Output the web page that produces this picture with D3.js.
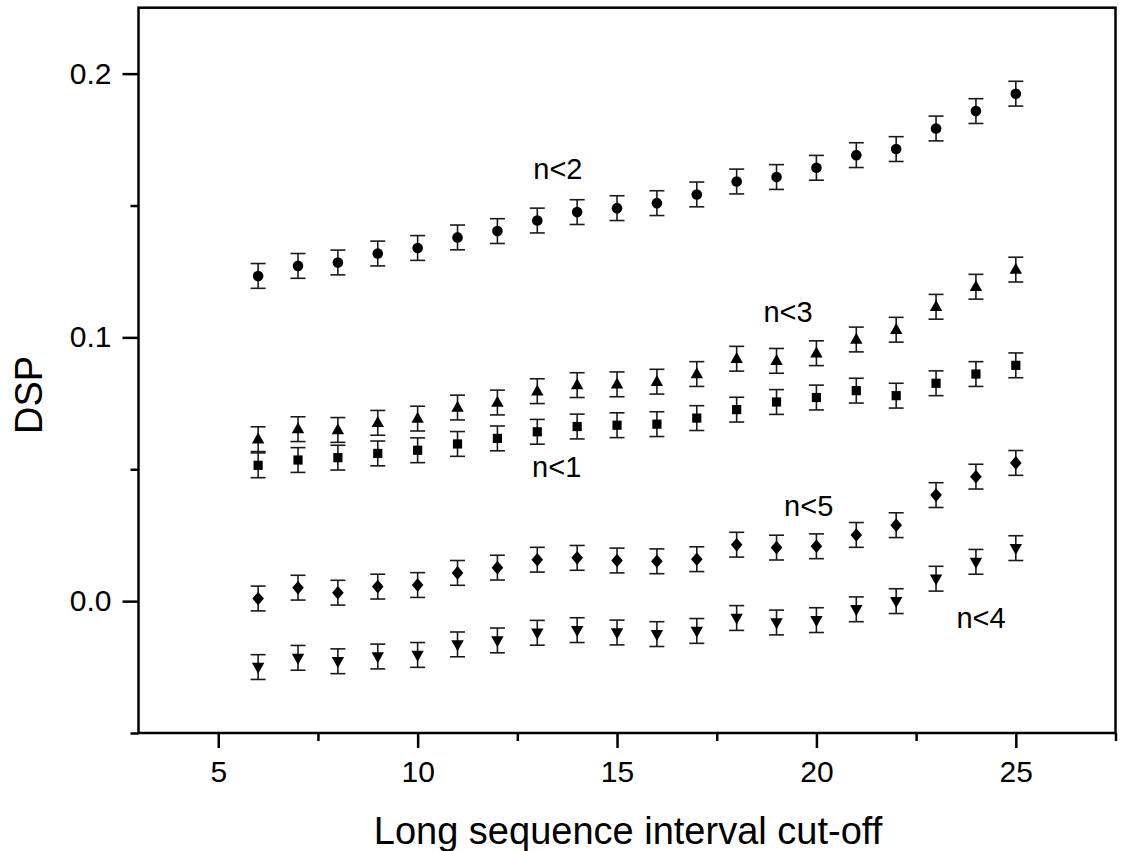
<!DOCTYPE html>
<html>
<head>
<meta charset="utf-8">
<script src="https://cdn.jsdelivr.net/npm/d3@7"></script>
<style>
  body { margin: 0; background: #fff; }
  svg { display: block; font-family: 'Liberation Sans', Arial, sans-serif; }
</style>
</head>
<body>
<svg id="chart" width="1129" height="851"></svg>
<script>
const cutoffs = [6, 7, 8, 9, 10, 11, 12, 13, 14, 15, 16, 17, 18, 19, 20, 21, 22, 23, 24, 25];

// DSP per cut-off, one array per n
const dspN1 = [0.0515, 0.0535, 0.0544, 0.0560, 0.0572, 0.0596, 0.0617, 0.0642, 0.0662, 0.0667,
               0.0671, 0.0694, 0.0726, 0.0755, 0.0772, 0.0798, 0.0779, 0.0826, 0.0861, 0.0894];
const dspN2 = [0.1233, 0.1271, 0.1284, 0.1318, 0.1339, 0.1379, 0.1403, 0.1443, 0.1475, 0.1490,
               0.1509, 0.1542, 0.1591, 0.1608, 0.1643, 0.1691, 0.1714, 0.1792, 0.1858, 0.1924];
const dspN3 = [0.0614, 0.0652, 0.0649, 0.0676, 0.0692, 0.0734, 0.0753, 0.0796, 0.0819, 0.0822,
               0.0832, 0.0861, 0.0919, 0.0911, 0.0940, 0.0992, 0.1029, 0.1116, 0.1192, 0.1257];
const dspN4 = [-0.0250, -0.0215, -0.0228, -0.0210, -0.0204, -0.0164, -0.0149, -0.0120, -0.0110, -0.0119,
               -0.0125, -0.0113, -0.0064, -0.0081, -0.0072, -0.0031, 0.0000, 0.0085, 0.0149, 0.0201];
const dspN5 = [0.0010, 0.0051, 0.0032, 0.0055, 0.0061, 0.0107, 0.0127, 0.0157, 0.0164, 0.0154,
               0.0151, 0.0159, 0.0214, 0.0203, 0.0208, 0.0251, 0.0288, 0.0402, 0.0472, 0.0524];

// half height of the error bars, same on every point
const errDsp = 0.0047;

const xMajor = [5, 10, 15, 20, 25];
const xMinor = [7.5, 12.5, 17.5, 22.5, 27.5];
const yMajor = [0, 0.1, 0.2];
const yMinor = [-0.05, 0.05, 0.15];

// series labels placed in data units
const labels = [
  { text: 'n<2', x: 12.9, y: 0.160 },
  { text: 'n<3', x: 18.67, y: 0.1058 },
  { text: 'n<1', x: 12.87, y: 0.0472 },
  { text: 'n<5', x: 19.19, y: 0.0324 },
  { text: 'n<4', x: 23.51, y: -0.0101 }
];

const series = [
  { name: 'n<1', values: dspN1, marker: 'square' },
  { name: 'n<2', values: dspN2, marker: 'circle' },
  { name: 'n<3', values: dspN3, marker: 'triangleUp' },
  { name: 'n<4', values: dspN4, marker: 'triangleDown' },
  { name: 'n<5', values: dspN5, marker: 'diamond' }
];

const x = d3.scaleLinear().domain([3, 27.5]).range([138.5, 1115.5]);
const y = d3.scaleLinear().domain([-0.05, 0.225]).range([733, 7.7]);

const svg = d3.select('#chart');
svg.append('rect').attr('width', 1129).attr('height', 851).attr('fill', '#fff');

function markerPath(type) {
  const p = d3.path();
  if (type === 'circle') {
    p.arc(0, 0, 5.3, 0, 2 * Math.PI);
  } else if (type === 'square') {
    p.rect(-4.6, -4.6, 9.2, 9.2);
  } else if (type === 'triangleUp') {
    p.moveTo(0, -6.8); p.lineTo(6.2, 4.2); p.lineTo(-6.2, 4.2); p.closePath();
  } else if (type === 'triangleDown') {
    p.moveTo(0, 6.8); p.lineTo(6.2, -4.2); p.lineTo(-6.2, -4.2); p.closePath();
  } else if (type === 'diamond') {
    p.moveTo(0, -6.8); p.lineTo(5.8, 0); p.lineTo(0, 6.8); p.lineTo(-5.8, 0); p.closePath();
  }
  return p.toString();
}

// axes
const fmt = d3.format('.1f');
const xAxis = svg.append('g').attr('transform', `translate(0, ${y(-0.05)})`);
xAxis.call(d3.axisBottom(x).tickValues(xMajor).tickSize(15).tickPadding(13).tickFormat(d3.format('d')));
xAxis.append('g').call(d3.axisBottom(x).tickValues(xMinor).tickSize(8).tickFormat(''));

const yAxis = svg.append('g').attr('transform', `translate(${x(3)}, 0)`);
yAxis.call(d3.axisLeft(y).tickValues(yMajor).tickSize(16).tickPadding(11).tickFormat(fmt));
yAxis.append('g').call(d3.axisLeft(y).tickValues(yMinor).tickSize(8).tickFormat(''));

svg.selectAll('.domain').remove();
svg.selectAll('.tick line').attr('stroke', '#000').attr('stroke-width', 2.5);
svg.selectAll('.tick text').attr('font-size', 30).attr('fill', '#000')
  .attr('font-family', "'Liberation Sans', Arial, sans-serif");

svg.append('rect')
  .attr('x', x(3)).attr('y', y(0.225))
  .attr('width', x(27.5) - x(3)).attr('height', y(-0.05) - y(0.225))
  .attr('fill', 'none').attr('stroke', '#000').attr('stroke-width', 2.5);

// error bars + markers
const groups = svg.append('g').selectAll('g')
  .data(series)
  .join('g');

groups.each(function (s) {
  const g = d3.select(this);
  const pts = cutoffs.map((c, i) => ({ c, v: s.values[i] }));

  const bars = g.selectAll('g.err').data(pts).join('g').attr('class', 'err')
    .attr('stroke', '#1a1a1a').attr('stroke-width', 1.6);
  bars.append('line')
    .attr('x1', d => x(d.c)).attr('x2', d => x(d.c))
    .attr('y1', d => y(d.v - errDsp)).attr('y2', d => y(d.v + errDsp));
  bars.append('line')
    .attr('x1', d => x(d.c) - 7.5).attr('x2', d => x(d.c) + 7.5)
    .attr('y1', d => y(d.v + errDsp)).attr('y2', d => y(d.v + errDsp));
  bars.append('line')
    .attr('x1', d => x(d.c) - 7.5).attr('x2', d => x(d.c) + 7.5)
    .attr('y1', d => y(d.v - errDsp)).attr('y2', d => y(d.v - errDsp));

  g.selectAll('path.mark').data(pts).join('path').attr('class', 'mark')
    .attr('d', markerPath(s.marker))
    .attr('transform', d => `translate(${x(d.c)}, ${y(d.v)})`)
    .attr('fill', '#000');
});

svg.append('g').selectAll('text')
  .data(labels)
  .join('text')
  .attr('x', d => x(d.x))
  .attr('y', d => y(d.y))
  .attr('font-size', 29)
  .attr('fill', '#000')
  .text(d => d.text);

// axis titles
svg.append('text')
  .attr('x', 628).attr('y', 844)
  .attr('text-anchor', 'middle')
  .attr('font-size', 38)
  .text('Long sequence interval cut-off');

svg.append('text')
  .attr('transform', 'translate(42, 395) rotate(-90)')
  .attr('text-anchor', 'middle')
  .attr('font-size', 38)
  .text('DSP');
</script>
</body>
</html>
